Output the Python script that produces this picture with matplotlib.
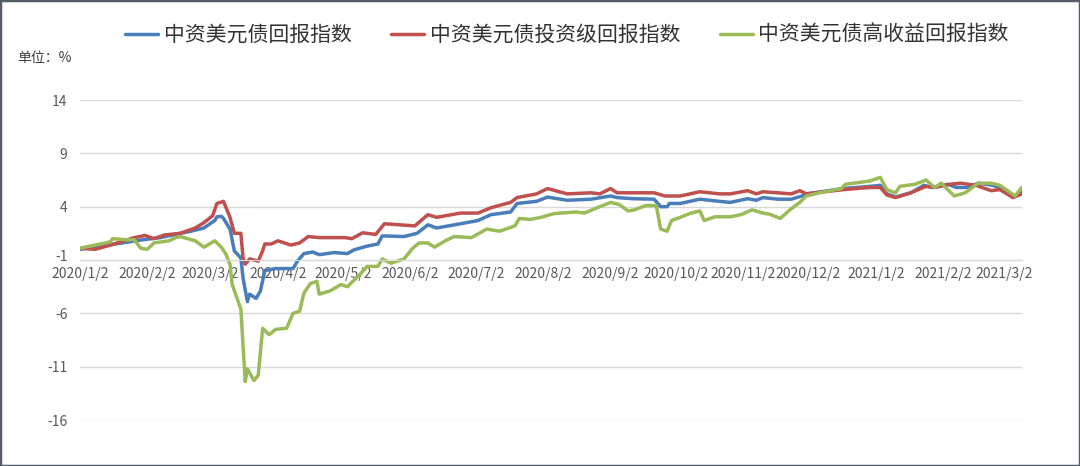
"""
中资美元债回报指数 走势图 (2020/1 - 2021/3)
"""
import pandas as pd
import matplotlib.pyplot as plt
import matplotlib.transforms as mtransforms
from matplotlib.patches import Rectangle

plt.rcParams['font.family'] = ['Noto Sans CJK SC', 'DejaVu Sans']
plt.rcParams['axes.unicode_minus'] = False

# ---- data (unit: %) ----
total_dates = ['2020-01-02', '2020-01-31', '2020-02-08', '2020-02-22', '2020-02-28',
               '2020-03-04', '2020-03-05', '2020-03-07', '2020-03-08', '2020-03-11',
               '2020-03-13', '2020-03-16', '2020-03-17', '2020-03-19', '2020-03-20',
               '2020-03-23', '2020-03-25', '2020-03-27', '2020-04-01', '2020-04-09',
               '2020-04-11', '2020-04-14', '2020-04-18', '2020-04-21', '2020-04-28',
               '2020-05-04', '2020-05-07', '2020-05-13', '2020-05-18', '2020-05-20',
               '2020-05-30', '2020-06-05', '2020-06-10', '2020-06-14', '2020-06-25',
               '2020-07-03', '2020-07-09', '2020-07-18', '2020-07-21', '2020-07-30',
               '2020-08-04', '2020-08-13', '2020-08-24', '2020-09-02', '2020-09-05',
               '2020-09-12', '2020-09-22', '2020-09-25', '2020-09-28', '2020-09-29',
               '2020-10-04', '2020-10-13', '2020-10-22', '2020-10-27', '2020-11-04',
               '2020-11-08', '2020-11-11', '2020-11-18', '2020-11-24', '2020-11-29',
               '2020-12-01', '2020-12-18', '2020-12-30', '2021-01-04', '2021-01-07',
               '2021-01-11', '2021-01-18', '2021-01-24', '2021-01-28', '2021-02-04',
               '2021-02-08', '2021-02-13', '2021-02-18', '2021-02-25', '2021-02-28',
               '2021-03-06', '2021-03-10']
total_vals = [0.0, 0.9, 1.1, 1.7, 2.0,
              2.7, 3.05, 3.1, 2.9, 1.9,
              -0.15, -0.8, -2.7, -4.9, -4.2,
              -4.6, -3.9, -2.0, -1.8, -1.8,
              -1.1, -0.4, -0.25, -0.5, -0.3,
              -0.4, -0.05, 0.3, 0.5, 1.26,
              1.2, 1.5, 2.3, 2.0, 2.4,
              2.7, 3.25, 3.5, 4.3, 4.5,
              4.9, 4.6, 4.7, 5.0, 4.85,
              4.75, 4.7, 4.0, 4.0, 4.3,
              4.3, 4.7, 4.5, 4.4, 4.75,
              4.6, 4.85, 4.7, 4.7, 5.0,
              5.2, 5.7, 5.9, 6.0, 5.2,
              4.9, 5.3, 6.0, 5.8, 6.1,
              5.8, 5.8, 6.2, 6.0, 5.7,
              4.9, 5.4]

ig_dates = ['2020-01-02', '2020-01-09', '2020-01-16', '2020-01-27', '2020-02-01',
            '2020-02-05', '2020-02-10', '2020-02-17', '2020-02-24', '2020-02-28',
            '2020-03-03', '2020-03-05', '2020-03-08', '2020-03-11', '2020-03-13',
            '2020-03-16', '2020-03-17', '2020-03-18', '2020-03-20', '2020-03-24',
            '2020-03-26', '2020-03-27', '2020-03-30', '2020-04-02', '2020-04-08',
            '2020-04-12', '2020-04-16', '2020-04-21', '2020-05-03', '2020-05-06',
            '2020-05-11', '2020-05-17', '2020-05-21', '2020-05-28', '2020-06-04',
            '2020-06-10', '2020-06-14', '2020-06-25', '2020-07-03', '2020-07-09',
            '2020-07-18', '2020-07-21', '2020-07-30', '2020-08-04', '2020-08-13',
            '2020-08-24', '2020-08-28', '2020-09-02', '2020-09-05', '2020-09-15',
            '2020-09-22', '2020-09-27', '2020-10-04', '2020-10-13', '2020-10-22',
            '2020-10-27', '2020-11-04', '2020-11-08', '2020-11-11', '2020-11-18',
            '2020-11-24', '2020-11-28', '2020-12-01', '2020-12-18', '2020-12-30',
            '2021-01-04', '2021-01-07', '2021-01-11', '2021-01-18', '2021-01-25',
            '2021-01-29', '2021-02-05', '2021-02-10', '2021-02-17', '2021-02-24',
            '2021-02-28', '2021-03-06', '2021-03-10']
ig_vals = [0.1, 0.0, 0.4, 1.1, 1.3,
           1.0, 1.35, 1.5, 2.0, 2.5,
           3.15, 4.3, 4.5, 3.0, 1.5,
           1.5, -0.8, -1.4, -0.9, -1.1,
           -0.15, 0.5, 0.5, 0.8, 0.4,
           0.6, 1.2, 1.1, 1.1, 1.0,
           1.55, 1.4, 2.4, 2.3, 2.2,
           3.25, 3.0, 3.4, 3.4, 3.9,
           4.4, 4.85, 5.2, 5.7, 5.2,
           5.3, 5.2, 5.7, 5.3, 5.3,
           5.3, 5.0, 5.0, 5.4, 5.2,
           5.2, 5.5, 5.2, 5.4, 5.3,
           5.2, 5.5, 5.2, 5.6, 5.8,
           5.8, 5.1, 4.85, 5.3, 5.9,
           5.8, 6.1, 6.2, 6.0, 5.5,
           5.6, 4.85, 5.2]

hy_dates = ['2020-01-02', '2020-01-09', '2020-01-16', '2020-01-17', '2020-01-23',
            '2020-01-27', '2020-01-30', '2020-02-02', '2020-02-05', '2020-02-12',
            '2020-02-15', '2020-02-17', '2020-02-24', '2020-02-28', '2020-03-04',
            '2020-03-07', '2020-03-09', '2020-03-11', '2020-03-12', '2020-03-16',
            '2020-03-18', '2020-03-19', '2020-03-22', '2020-03-24', '2020-03-26',
            '2020-03-29', '2020-04-01', '2020-04-06', '2020-04-09', '2020-04-12',
            '2020-04-14', '2020-04-17', '2020-04-20', '2020-04-21', '2020-04-26',
            '2020-05-01', '2020-05-04', '2020-05-10', '2020-05-13', '2020-05-18',
            '2020-05-20', '2020-05-24', '2020-05-30', '2020-06-03', '2020-06-06',
            '2020-06-10', '2020-06-13', '2020-06-18', '2020-06-22', '2020-06-30',
            '2020-07-07', '2020-07-13', '2020-07-20', '2020-07-22', '2020-07-27',
            '2020-08-01', '2020-08-07', '2020-08-17', '2020-08-21', '2020-08-28',
            '2020-09-02', '2020-09-06', '2020-09-10', '2020-09-13', '2020-09-18',
            '2020-09-23', '2020-09-25', '2020-09-28', '2020-09-30', '2020-10-04',
            '2020-10-09', '2020-10-13', '2020-10-15', '2020-10-20', '2020-10-27',
            '2020-11-01', '2020-11-06', '2020-11-11', '2020-11-14', '2020-11-19',
            '2020-11-24', '2020-11-28', '2020-12-01', '2020-12-07', '2020-12-17',
            '2020-12-19', '2020-12-30', '2021-01-04', '2021-01-07', '2021-01-11',
            '2021-01-13', '2021-01-20', '2021-01-25', '2021-01-29', '2021-02-01',
            '2021-02-05', '2021-02-07', '2021-02-12', '2021-02-18', '2021-02-24',
            '2021-02-28', '2021-03-07', '2021-03-10']
hy_vals = [0.1, 0.4, 0.7, 1.0, 0.9,
           0.9, 0.1, 0.0, 0.6, 0.8,
           1.1, 1.2, 0.8, 0.2, 0.8,
           0.2, -0.4, -1.4, -3.3, -5.6,
           -12.4, -11.2, -12.3, -11.8, -7.4,
           -8.0, -7.5, -7.4, -6.0, -5.8,
           -4.1, -3.2, -3.0, -4.2, -3.9,
           -3.3, -3.5, -2.3, -1.6, -1.6,
           -0.9, -1.3, -0.9, 0.1, 0.6,
           0.6, 0.2, 0.8, 1.2, 1.1,
           1.9, 1.7, 2.2, 2.9, 2.8,
           3.0, 3.35, 3.5, 3.4, 4.0,
           4.4, 4.2, 3.6, 3.7, 4.1,
           4.1, 1.9, 1.7, 2.7, 3.0,
           3.4, 3.6, 2.7, 3.05, 3.05,
           3.25, 3.7, 3.4, 3.3, 2.9,
           3.8, 4.4, 5.0, 5.3, 5.7,
           6.1, 6.4, 6.75, 5.6, 5.3,
           5.9, 6.1, 6.5, 5.8, 6.2,
           5.4, 5.0, 5.3, 6.2, 6.2,
           6.0, 5.0, 5.8]

series_names = ['中资美元债回报指数', '中资美元债投资级回报指数', '中资美元债高收益回报指数']
series_colors = ['#4A7EBB', '#C0504D', '#9BBB59']

tick_dates = ['2020-01-02', '2020-02-02', '2020-03-02', '2020-04-02', '2020-05-02',
              '2020-06-02', '2020-07-02', '2020-08-02', '2020-09-02', '2020-10-02',
              '2020-11-02', '2020-12-02', '2021-01-02', '2021-02-02', '2021-03-02']
tick_labels = ['2020/1/2', '2020/2/2', '2020/3/2', '2020/4/2', '2020/5/2',
               '2020/6/2', '2020/7/2', '2020/8/2', '2020/9/2', '2020/10/2',
               '2020/11/2', '2020/12/2', '2021/1/2', '2021/2/2', '2021/3/2']
y_ticks = [-16, -11, -6, -1, 4, 9, 14]

# ---- figure ----
fig = plt.figure(figsize=(10.8, 4.66), dpi=100)
fig.patches.append(Rectangle((0, 0), 1, 1, transform=fig.transFigure, fill=False,
                             edgecolor='#545C68', linewidth=2.5))
ax = fig.add_axes([0.074, 0.0987, 0.872, 0.6867])

all_dates = [total_dates, ig_dates, hy_dates]
all_vals = [total_vals, ig_vals, hy_vals]
for d, v, name, c in zip(all_dates, all_vals, series_names, series_colors):
    ax.plot(pd.to_datetime(d), v, color=c, linewidth=2.5, label=name,
            solid_joinstyle='round', solid_capstyle='round')

ax.set_xlim(pd.Timestamp('2020-01-02'), pd.Timestamp('2021-03-10'))
ax.set_ylim(-16, 14)
ax.set_yticks(y_ticks)
ax.set_yticklabels([str(t) for t in y_ticks])
ax.set_xticks(pd.to_datetime(tick_dates))
ax.set_xticklabels(tick_labels)

ax.grid(axis='y', color='#D9D9D9', linewidth=1)
ax.set_axisbelow(True)
for s in ['top', 'right', 'left']:
    ax.spines[s].set_visible(False)
ax.spines['bottom'].set_position(('data', -1))
ax.spines['bottom'].set_color('#D9D9D9')
ax.tick_params(axis='both', length=0, labelsize=10, labelcolor='#595959')
ax.tick_params(axis='y', pad=9)
ax.tick_params(axis='x', pad=5)

# the "-1" label sits right on the date axis; lift it a little so the two don't collide
lab = ax.get_yticklabels()[y_ticks.index(-1)]
lab.set_transform(lab.get_transform() + mtransforms.ScaledTranslation(0, 3 / 72, fig.dpi_scale_trans))

fig.text(0.016, 0.875, '单位：%', fontsize=10, color='#404040', va='center')

fig.legend(loc='center', bbox_to_anchor=(0.525, 0.925), ncol=3, frameon=False,
           fontsize=15, handlelength=1.6, handletextpad=0.25, columnspacing=1.9,
           labelcolor='#333333')

plt.savefig('out.png', dpi=100)
